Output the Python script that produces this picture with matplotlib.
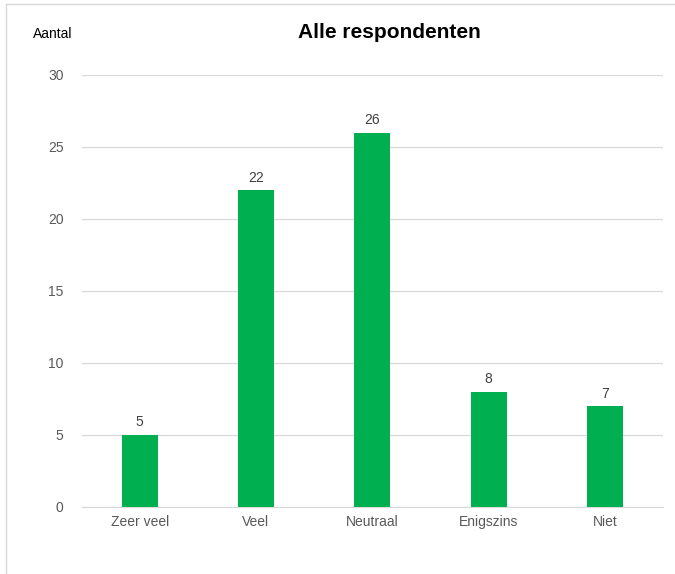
import matplotlib
matplotlib.use("Agg")
import matplotlib.pyplot as plt
from matplotlib.lines import Line2D
from matplotlib import font_manager

categories = ["Zeer veel", "Veel", "Neutraal", "Enigszins", "Niet"]
values = [5, 22, 26, 8, 7]
yticks = [0, 5, 10, 15, 20, 25, 30]

names = {f.name for f in font_manager.fontManager.ttflist}
base = "Liberation Sans" if "Liberation Sans" in names else "DejaVu Sans"
narrow = "Liberation Sans Narrow" if "Liberation Sans Narrow" in names else base

fig = plt.figure(figsize=(6.75, 5.74), dpi=100)
ax = fig.add_axes([81.5/675, 1-507/574, (663-81.5)/675, (507-75)/574])

x = range(len(categories))
ax.bar(x, values, width=0.31, color="#00B050", zorder=3)
for xi, v in zip(x, values):
    ax.annotate(str(v), (xi, v), xytext=(0, 4), textcoords="offset points",
                ha="center", va="bottom", fontsize=10, color="#404040", family=base)

ax.set_xlim(-0.5, len(categories) - 0.5)
ax.set_ylim(0, 30)
ax.set_yticks(yticks)
ax.set_xticks(list(x))
ax.set_xticklabels(categories)
ax.grid(axis="y", color="#D9D9D9", linewidth=0.9, zorder=0)
for s in ["top", "right", "left"]:
    ax.spines[s].set_visible(False)
ax.spines["bottom"].set_color("#D9D9D9")
ax.tick_params(axis="both", length=0, labelsize=10, labelcolor="#595959")
ax.tick_params(axis="y", pad=13)
ax.tick_params(axis="x", pad=6)
for lab in ax.get_xticklabels() + ax.get_yticklabels():
    lab.set_family(base)

fig.text(389/675, 1-32/574, "Alle respondenten", ha="center", va="center",
         fontsize=15, fontweight="bold", family=narrow, color="#000000")
fig.text(33/675, 1-34/574, "Aantal", ha="left", va="center",
         fontsize=10, family=base, color="#000000")

# outer chart-area border (partial)
fig.add_artist(Line2D([6/675, 1], [1-4/574, 1-4/574], transform=fig.transFigure,
                      color="#D9D9D9", linewidth=1))
fig.add_artist(Line2D([6/675, 6/675], [0, 1-4/574], transform=fig.transFigure,
                      color="#D9D9D9", linewidth=1))

fig.savefig("out.png", dpi=100)
